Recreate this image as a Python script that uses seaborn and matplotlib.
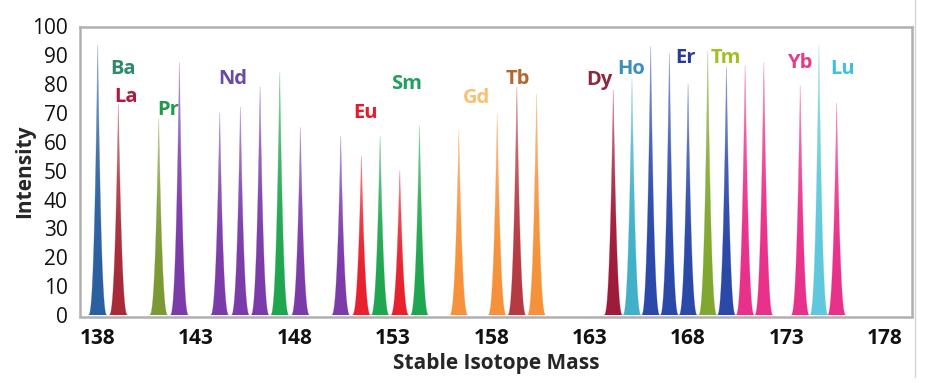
import numpy as np
import pandas as pd
import matplotlib.pyplot as plt
import matplotlib.lines as mlines
from matplotlib.colors import to_rgb
import seaborn as sns

# peak positions (as drawn) and heights
masses = [138.0, 139.05, 141.1, 142.15, 144.2, 145.25, 146.25, 147.25, 148.3,
          150.35, 151.4, 152.35, 153.35, 154.35, 156.35, 158.3, 159.3, 160.3,
          164.2, 165.15, 166.1, 167.05, 168.0, 169.0, 169.95, 170.9, 171.85,
          173.7, 174.65, 175.55]
intensity = [93.5, 73, 68, 87.5, 70, 72, 79, 84, 65,
             62, 55, 62, 50, 65.5, 64, 69.5, 79, 76.5,
             78, 82, 93, 90.5, 80, 91.5, 86, 86.5, 87.5,
             79.5, 93.5, 73.5]
element = ['Ba', 'La', 'Pr', 'Nd', 'Nd', 'Nd', 'Nd', 'Sm', 'Nd',
           'Nd', 'Eu', 'Sm', 'Eu', 'Sm', 'Gd', 'Gd', 'Tb', 'Gd',
           'Dy', 'Ho', 'Er', 'Er', 'Er', 'Tm', 'Er', 'Yb', 'Yb',
           'Yb', 'Lu', 'Yb']

peak_colors = {'Ba': '#2a5fa0', 'La': '#a82a38', 'Pr': '#7a9a35', 'Nd': '#7a3aa8',
               'Sm': '#1fa650', 'Eu': '#e8202e', 'Gd': '#f5923a', 'Tb': '#b53a42',
               'Dy': '#9e1a3a', 'Ho': '#40b0c8', 'Er': '#2a48a8', 'Tm': '#80a830',
               'Yb': '#e8308a', 'Lu': '#5ec8dc'}

# element labels: name, x centre, baseline y, colour
label_names = ['Ba', 'La', 'Pr', 'Nd', 'Eu', 'Sm', 'Gd', 'Tb', 'Dy', 'Ho', 'Er', 'Tm', 'Yb', 'Lu']
label_x = [139.31, 139.44, 141.57, 144.87, 151.63, 153.72, 157.27, 159.36, 163.51, 165.09, 167.88, 169.91, 173.67, 175.86]
label_y = [83.4, 73.7, 69.2, 79.9, 68.2, 78.5, 73.4, 79.9, 79.6, 83.4, 87.5, 87.5, 85.5, 83.4]
label_colors = ['#2e8a6a', '#b5173a', '#1e9a48', '#6a4aa8', '#e8192c', '#20a060', '#f8c070',
                '#b8642a', '#8a2a40', '#3a8ec0', '#2a3a9a', '#a0c020', '#e83a88', '#40c0e0']

xticks = [138, 143, 148, 153, 158, 163, 168, 173, 178]
yticks = list(range(0, 101, 10))

sns.set_style('white')
plt.rcParams['font.family'] = ['Open Sans', 'DejaVu Sans']

fig = plt.figure(figsize=(9.4, 3.83), dpi=100)
ax = fig.add_axes([80 / 940, 1 - 316.5 / 383, 832 / 940, 290 / 383])

W = 0.47
rows = []
for i, (m, h) in enumerate(zip(masses, intensity)):
    xs = np.linspace(m - W, m + W, 161)
    ys = h * np.clip(1 - np.abs(xs - m) / W, 0, None) ** 2.5
    rows.append(pd.DataFrame({'mass': xs, 'intensity': ys, 'peak': i}))
    poly = ax.fill_between(xs, ys, 0, color=peak_colors[element[i]], alpha=0, lw=0)
    # solid body, paler tip
    rgb = to_rgb(peak_colors[element[i]])
    t = np.linspace(1, 0, 200)
    grad = np.zeros((200, 1, 4))
    grad[:, 0, :3] = rgb
    grad[:, 0, 3] = 1 - 0.65 * t ** 3
    im = ax.imshow(grad, extent=[m - W, m + W, 0, h], aspect='auto',
                   origin='upper', interpolation='bilinear', zorder=2)
    im.set_clip_path(poly.get_paths()[0], transform=ax.transData)

curves = pd.concat(rows)
sns.lineplot(data=curves, x='mass', y='intensity', hue='peak', units='peak', estimator=None,
             palette=[peak_colors[e] for e in element], linewidth=0.5, alpha=0.35,
             legend=False, ax=ax, zorder=3)

for name, lx, ly, c in zip(label_names, label_x, label_y, label_colors):
    ax.text(lx, ly, name, color=c, fontsize=14.5, fontweight='bold',
            ha='center', va='baseline')

ax.set_xlim(137.1, 179.38)
ax.set_ylim(-0.5, 100)
ax.set_xticks(xticks)
ax.set_yticks(yticks)
ax.set_xticklabels([str(t) for t in xticks], fontsize=15, fontweight='bold')
ax.set_yticklabels([str(t) for t in yticks], fontsize=15)
ax.tick_params(axis='x', length=0, pad=8, colors='#111111')
ax.tick_params(axis='y', length=0, pad=9, colors='#111111')
ax.set_xlabel('Stable Isotope Mass', fontsize=15, fontweight='bold')
ax.set_ylabel('Intensity', fontsize=15, fontweight='bold')
ax.xaxis.set_label_coords((496 - 80) / 832, -(363 - 316.5) / 290)
ax.yaxis.set_label_coords((25 - 80) / 832, 0.5)
ax.xaxis.label.set_va('center')
ax.yaxis.label.set_va('center')
for s in ax.spines.values():
    s.set_color('#b0b0b0')
    s.set_linewidth(1.8)

fig.add_artist(mlines.Line2D([914.5 / 940] * 2, [1 - 377 / 383, 1], color='#d5d5d5', lw=1))

fig.savefig('out.png', dpi=100)
